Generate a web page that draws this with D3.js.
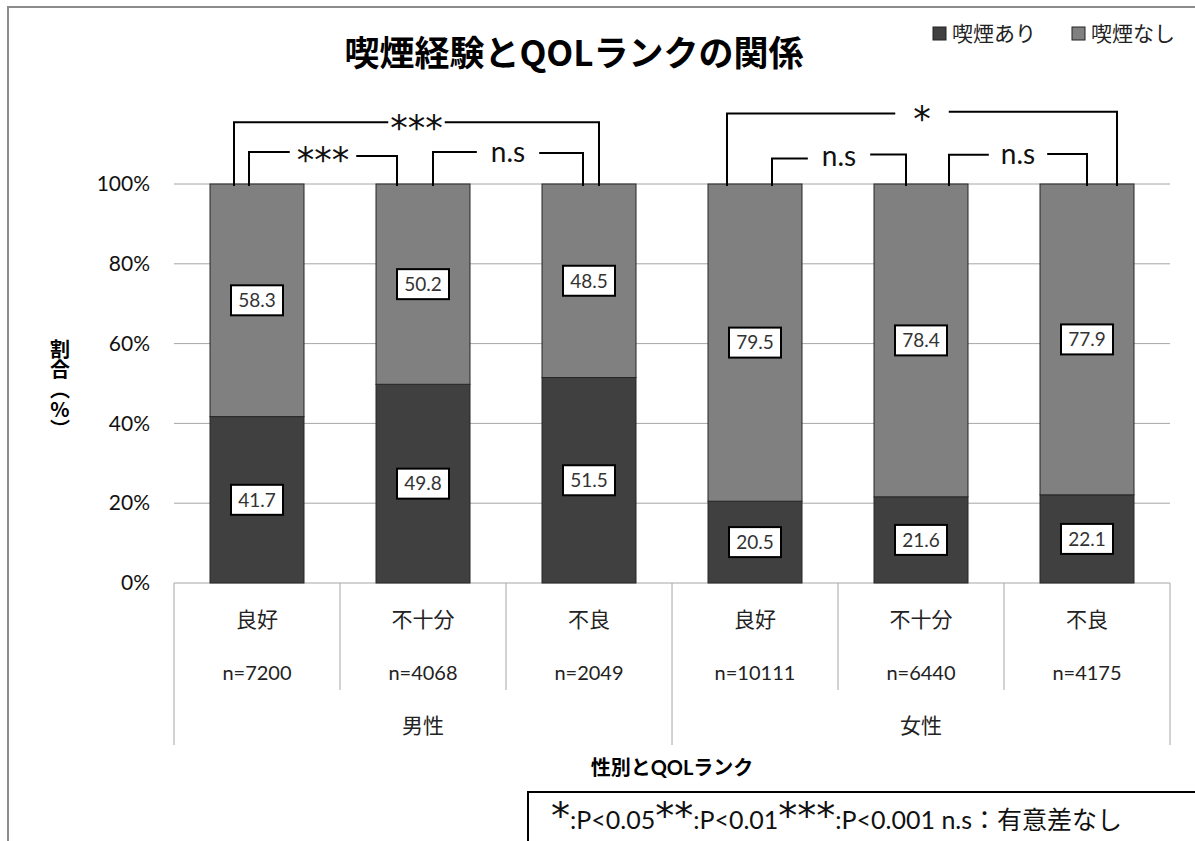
<!DOCTYPE html>
<html>
<head>
<meta charset="utf-8">
<script src="https://cdn.jsdelivr.net/npm/d3@7"></script>
<style>
  html, body { margin: 0; padding: 0; background: #fff; }
  svg { display: block; }
  .vertical { writing-mode: vertical-rl; text-orientation: upright; }
</style>
</head>
<body>
<svg id="chart" width="1195" height="841" font-family="Lato, 'Noto Sans CJK JP', sans-serif"></svg>
<script>
// QOL rank categories (male: 3, female: 3)
const categories = ["良好", "不十分", "不良", "良好", "不十分", "不良"];
const sampleSizes = ["n=7200", "n=4068", "n=2049", "n=10111", "n=6440", "n=4175"];
const groups = ["男性", "女性"];
// Percentages per category
const smokerPct = [41.7, 49.8, 51.5, 20.5, 21.6, 22.1];      // 喫煙あり
const nonSmokerPct = [58.3, 50.2, 48.5, 79.5, 78.4, 77.9];   // 喫煙なし
const seriesNames = ["喫煙あり", "喫煙なし"];
const yTicks = [0, 20, 40, 60, 80, 100];
// Significance comparisons between categories
const comparisons = [
  { from: 0, to: 2, label: "***" },
  { from: 0, to: 1, label: "***" },
  { from: 1, to: 2, label: "n.s" },
  { from: 3, to: 5, label: "*" },
  { from: 3, to: 4, label: "n.s" },
  { from: 4, to: 5, label: "n.s" }
];

const colors = { smoker: "#404040", nonSmoker: "#808080", grid: "#a6a6a6" };
const starFont = "'DejaVu Sans', sans-serif";
const cjkFont = "'Noto Sans CJK JP', sans-serif";

const svg = d3.select("#chart");

// Chart frame
svg.append("path")
  .attr("d", "M8,850 L8,7 L1200,7")
  .attr("fill", "none").attr("stroke", "#8c8c8c").attr("stroke-width", 2);

const plotLeft = 174, plotRight = 1170, plotTop = 184, plotBottom = 583;
const idx = d3.range(categories.length);
const xCell = d3.scaleBand().domain(idx).range([plotLeft, plotRight]).padding(0);
const barW = 94;
const cx = i => xCell(i) + xCell.bandwidth() / 2;
const y = d3.scaleLinear().domain([0, 100]).range([plotBottom, plotTop]);

// Gridlines
svg.append("g").selectAll("line").data(yTicks).join("line")
  .attr("x1", plotLeft).attr("x2", plotRight)
  .attr("y1", d => y(d)).attr("y2", d => y(d))
  .attr("stroke", colors.grid).attr("stroke-width", 1);

// Y axis labels
const yAxis = d3.axisLeft(y).tickValues(yTicks).tickFormat(d => d + "%").tickSize(0).tickPadding(24);
const yg = svg.append("g").attr("transform", `translate(${plotLeft},0)`).call(yAxis);
yg.attr("font-family", null).attr("font-size", null);
yg.select(".domain").remove();
yg.selectAll("text").attr("font-size", 21).attr("fill", "#111");

// Stacked bars
const rows = idx.map(i => ({ i, smoker: smokerPct[i], nonSmoker: nonSmokerPct[i] }));
const stack = d3.stack().keys(["smoker", "nonSmoker"])(rows);
const fillFor = { smoker: colors.smoker, nonSmoker: colors.nonSmoker };
svg.append("g").selectAll("g").data(stack).join("g")
  .attr("fill", d => fillFor[d.key])
  .selectAll("rect").data(d => d).join("rect")
  .attr("x", d => cx(d.data.i) - barW / 2)
  .attr("width", barW)
  .attr("y", d => y(d[1]))
  .attr("height", d => y(d[0]) - y(d[1]))
  .attr("stroke", "#262626").attr("stroke-width", 1);

// Value labels in boxes
const labels = [];
stack.forEach(s => s.forEach(d => labels.push({ i: d.data.i, mid: (d[0] + d[1]) / 2, key: s.key })));
const lg = svg.append("g").selectAll("g").data(labels).join("g")
  .attr("transform", d => `translate(${cx(d.i)},${y(d.mid)})`);
lg.append("rect").attr("x", -26).attr("y", -15).attr("width", 52).attr("height", 30)
  .attr("fill", "#fff").attr("stroke", "#000").attr("stroke-width", 2);
lg.append("text").attr("text-anchor", "middle").attr("dy", "0.36em")
  .attr("font-size", 19).attr("fill", "#333")
  .text(d => (d.key === "smoker" ? smokerPct[d.i] : nonSmokerPct[d.i]).toFixed(1));

// Category axis: separators and labels
const bounds = idx.map(i => xCell(i)).concat([plotRight]);
svg.append("g").selectAll("line").data(bounds).join("line")
  .attr("x1", d => d).attr("x2", d => d)
  .attr("y1", plotBottom)
  .attr("y2", (d, k) => (k % 3 === 0 ? 745 : 690))
  .attr("stroke", colors.grid).attr("stroke-width", 1);

svg.append("g").selectAll("text").data(categories).join("text")
  .attr("x", (d, i) => cx(i)).attr("y", 627)
  .attr("text-anchor", "middle").attr("font-size", 21).attr("fill", "#222")
  .text(d => d);
svg.append("g").selectAll("text").data(sampleSizes).join("text")
  .attr("x", (d, i) => cx(i)).attr("y", 680)
  .attr("text-anchor", "middle").attr("font-size", 20).attr("fill", "#222")
  .text(d => d);
svg.append("g").selectAll("text").data(groups).join("text")
  .attr("x", (d, g) => (bounds[g * 3] + bounds[g * 3 + 3]) / 2).attr("y", 733)
  .attr("text-anchor", "middle").attr("font-size", 21).attr("fill", "#222")
  .text(d => d);

// Axis titles
svg.append("text").attr("x", 672).attr("y", 775).attr("text-anchor", "middle")
  .attr("font-size", 20).attr("font-weight", 700).text("性別とQOLランク");

// Vertical y-axis title
svg.append("text").attr("class", "vertical")
  .attr("x", 60).attr("y", 389).attr("text-anchor", "middle")
  .attr("font-size", 20).attr("font-weight", 700).attr("font-family", cjkFont)
  .text("割合（%）");

// Title
svg.append("text").attr("x", 574).attr("y", 66).attr("text-anchor", "middle")
  .attr("font-size", 35).attr("font-weight", 700)
  .attr("font-family", cjkFont)
  .text("喫煙経験とQOLランクの関係");

// Legend
const legendX = [933, 1072];
const legend = svg.append("g").selectAll("g").data(seriesNames).join("g")
  .attr("transform", (d, k) => `translate(${legendX[k]},27)`);
legend.append("rect").attr("width", 13).attr("height", 13)
  .attr("fill", (d, k) => k === 0 ? colors.smoker : colors.nonSmoker)
  .attr("stroke", "#222").attr("stroke-width", 1);
legend.append("text").attr("x", 19).attr("y", 14).attr("font-size", 21).attr("fill", "#222")
  .text(d => d);

// Significance brackets: heights in chart units above 100%, ends offset from bar centres
const bracketLayout = [
  { level: 115.5, dl: -23, dr: 10, hl: 0, hr: 0, gap: 2 },
  { level: 107.6, dl: -8, dr: -26, hl: 0.4, hr: -0.6, gap: 7 },
  { level: 107.8, dl: 10, dr: -6, hl: 0.2, hr: 0, gap: 14 },
  { level: 117.7, dl: -28, dr: 30, hl: 0, hr: 0.4, gap: 18 },
  { level: 106.8, dl: 17, dr: -15, hl: -0.4, hr: 0.6, gap: 14 },
  { level: 107.3, dl: 28, dr: 0, hl: 0, hr: 0.2, gap: 12 }
];
const bg = svg.append("g");
comparisons.forEach((c, k) => {
  const L = bracketLayout[k];
  const x1 = cx(c.from) + L.dl, x2 = cx(c.to) + L.dr;
  const yl = y(L.level + L.hl), yr = y(L.level + L.hr);
  const mid = (x1 + x2) / 2;
  const isStar = c.label !== "n.s";
  const t = bg.append("text").attr("x", mid).attr("y", y(L.level))
    .attr("text-anchor", "middle")
    .attr("font-family", isStar ? starFont : null)
    .attr("font-size", isStar ? 35 : 28)
    .attr("dy", isStar ? 18 : 9)
    .attr("fill", "#111")
    .text(c.label);
  const w = t.node().getComputedTextLength();
  bg.append("path")
    .attr("d", `M${x1},${y(100) + 2} V${yl} H${mid - w / 2 - L.gap}`)
    .attr("fill", "none").attr("stroke", "#000").attr("stroke-width", 2);
  bg.append("path")
    .attr("d", `M${mid + w / 2 + L.gap},${yr} H${x2} V${y(100) + 2}`)
    .attr("fill", "none").attr("stroke", "#000").attr("stroke-width", 2);
});

// Significance key box
svg.append("rect").attr("x", 528).attr("y", 792).attr("width", 700).attr("height", 80)
  .attr("fill", "#fff").attr("stroke", "#000").attr("stroke-width", 2);
const key = svg.append("text").attr("x", 551).attr("y", 829).attr("fill", "#111");
[["*", true], [":P<0.05", false], ["**", true], [":P<0.01", false],
 ["***", true], [":P<0.001 n.s", false], ["：有意差なし", false]]
  .forEach(([s, star]) => {
    key.append("tspan")
      .attr("font-family", star ? starFont : null)
      .attr("font-size", star ? 38 : 25)
      .text(s);
  });
</script>
</body>
</html>
